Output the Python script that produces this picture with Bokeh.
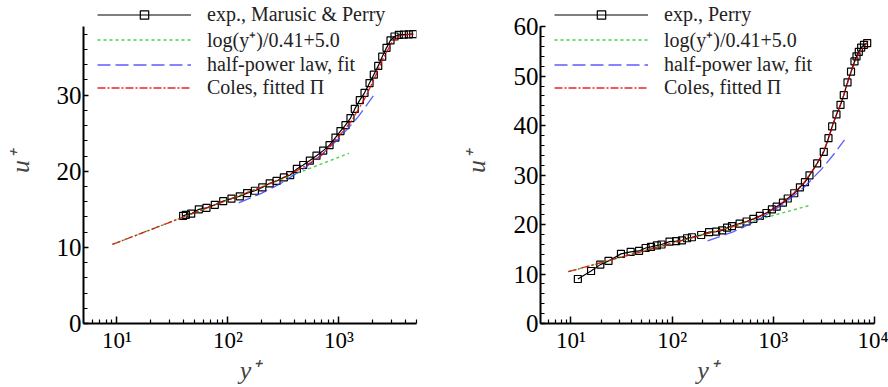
from bokeh.plotting import figure
from bokeh.models import Range1d, FixedTicker, Legend, LegendItem
from bokeh.layouts import row
from bokeh.embed import file_html
from bokeh.resources import INLINE

FONT = "'Liberation Serif', 'Times New Roman', serif"

# ---------------- left panel data (Marusic & Perry) ----------------
L_exp_y = [39.5, 41.8, 46.7, 54.7, 64.1, 76.2, 90.7, 107.7, 128, 149, 175, 204, 238, 274,
           319, 364, 418, 477, 547, 628, 722, 823, 931, 1033, 1146, 1271, 1390, 1542, 1701,
           1887, 2062, 2260, 2455, 2685, 2916, 3168, 3465, 3843, 4263, 4670]
L_exp_u = [14.14, 14.27, 14.43, 15.0, 15.2, 15.59, 16.07, 16.41, 16.71, 17.13, 17.44, 17.87,
           18.42, 18.73, 19.19, 19.5, 20.31, 20.82, 21.4, 22.04, 22.71, 23.43, 24.42, 25.28,
           26.05, 26.99, 28.19, 29.34, 30.3, 31.58, 32.69, 33.84, 35.05, 36.21, 37.19, 37.7,
           37.92, 37.95, 37.97, 38.0]
L_log_y = [9.1, 1230]
L_log_u = [10.39, 22.35]
L_half_y = [125, 200, 300, 500, 700, 1000, 1500, 2060]
L_half_u = [15.85, 17.1, 18.4, 20.5, 22.2, 24.3, 27.2, 30.0]
L_coles_y = [9.1, 40, 100, 200, 300, 500, 700, 1000, 1300, 1700, 2000, 2500, 3000, 3500, 4000, 4700]
L_coles_u = [10.39, 14.0, 16.23, 17.92, 18.97, 20.7, 22.1, 24.6, 26.6, 29.5, 31.6, 34.8, 36.9,
             37.75, 37.95, 38.0]

# ---------------- right panel data (Perry) ----------------
R_exp_y = [11.7, 15.8, 19.5, 23.5, 31.2, 38.9, 47.1, 54.7, 61.8, 70.6, 78.5, 94.2, 109.6, 124.7,
           140.4, 156.6, 193.6, 231.7, 272.4, 311.7, 349.1, 389.9, 464.5, 544.5, 635.3, 736.6,
           855, 968, 1079, 1245, 1388, 1610, 1833, 2055, 2277, 2712, 3153, 3508, 3817, 4207,
           4613, 4970, 5408, 5860, 6340, 6640, 6995, 7385, 7875, 8470]
R_exp_u = [8.99, 10.61, 11.9, 12.65, 14.07, 14.47, 14.66, 15.26, 15.47, 15.77, 15.97, 16.56,
           16.64, 16.78, 17.23, 17.43, 17.89, 18.48, 18.58, 18.81, 19.37, 19.70, 20.2, 20.61,
           21.15, 21.74, 22.33, 23.06, 23.62, 24.41, 25.26, 26.32, 27.53, 28.56, 29.94, 32.37,
           34.68, 37.45, 39.82, 42.25, 44.17, 46.15, 48.72, 50.89, 52.96, 53.99, 54.9, 55.77,
           56.32, 56.68]
R_log_y = [9.4, 2277]
R_log_u = [10.47, 23.85]
R_half_y = [224, 400, 700, 1000, 1500, 2000, 3000, 4000, 5050]
R_half_u = [16.7, 18.5, 20.9, 22.8, 25.4, 27.5, 31.2, 34.3, 37.1]
R_coles_y = [9.4, 30, 100, 200, 400, 700, 1000, 1500, 2000, 2500, 3000, 3500, 4000, 4500, 5000,
             5500, 6000, 7000, 8000, 8500]
R_coles_u = [10.47, 13.3, 16.23, 17.9, 19.6, 21.4, 23.1, 25.8, 28.4, 31.2, 33.9, 37.3, 41.0,
             43.7, 46.3, 49.0, 51.4, 54.6, 56.2, 56.7]

labels_L = ["exp., Marusic & Perry", "log(y\u207a)/0.41+5.0", "half-power law, fit", "Coles, fitted \u03a0"]
labels_R = ["exp., Perry", "log(y\u207a)/0.41+5.0", "half-power law, fit", "Coles, fitted \u03a0"]

SUP = {1: "\u00b9", 2: "\u00b2", 3: "\u00b3", 4: "\u2074"}


def make(exp_y, exp_u, log_y, log_u, half_y, half_u, coles_y, coles_u, labels,
         xmax, ymax, yview, xmajor, xminor, ymajor, yminor, bl, br, ylab_standoff):
    p = figure(width=444, height=387, x_axis_type="log",
               x_range=Range1d(5, xmax), y_range=Range1d(0, yview),
               output_backend="svg", toolbar_location=None,
               min_border_left=bl, min_border_right=br, min_border_top=0, min_border_bottom=57)
    p.outline_line_color = None
    p.grid.visible = False
    p.background_fill_color = "white"

    r_exp_l = p.line(exp_y, exp_u, line_color="black", line_width=1.2)
    r_exp_s = p.scatter(exp_y, exp_u, marker="square", size=7, fill_color=None,
                        line_color="black", line_width=1.2)
    r_log = p.line(log_y, log_u, line_color="#22cc22", line_width=1.4, line_dash="3 3", line_alpha=0.85)
    r_half = p.line(half_y, half_u, line_color="#3333ff", line_width=1.3, line_dash="13 5", line_alpha=0.8)
    r_coles = p.line(coles_y, coles_u, line_color="#e00000", line_width=1.3, line_dash="8 2 2 2", line_alpha=0.85)

    legend = Legend(items=[
        LegendItem(label=labels[0], renderers=[r_exp_l, r_exp_s]),
        LegendItem(label=labels[1], renderers=[r_log]),
        LegendItem(label=labels[2], renderers=[r_half]),
        LegendItem(label=labels[3], renderers=[r_coles]),
    ])
    legend.location = (14, 224)
    legend.padding = 0
    legend.margin = 0
    legend.spacing = 0
    legend.border_line_color = None
    legend.background_fill_alpha = 0
    legend.glyph_width = 94
    legend.glyph_height = 21
    legend.label_height = 21
    legend.label_standoff = 16
    legend.label_text_font = FONT
    legend.label_text_font_size = "20px"
    legend.label_text_color = "#222222"
    p.add_layout(legend, "center")

    xa = p.xaxis[0]
    xa.ticker = FixedTicker(ticks=xmajor, minor_ticks=xminor)
    xa.major_label_overrides = {t: "10" + SUP[len(str(int(t))) - 1] for t in xmajor}
    xa.major_label_text_font = FONT
    xa.major_label_text_font_size = "23px"
    xa.major_label_text_color = "black"
    xa.major_label_standoff = 4
    xa.major_tick_in = 7
    xa.major_tick_out = 0
    xa.minor_tick_in = 4
    xa.minor_tick_out = 0
    xa.axis_line_width = 2
    xa.major_tick_line_width = 1.5
    xa.minor_tick_line_width = 1.2
    xa.axis_label = "y\u207a"
    xa.axis_label_text_font = FONT
    xa.axis_label_text_font_style = "italic"
    xa.axis_label_text_font_size = "26px"
    xa.axis_label_standoff = 0

    ya = p.yaxis[0]
    ya.bounds = (0, ymax)
    ya.ticker = FixedTicker(ticks=ymajor, minor_ticks=yminor)
    ya.major_label_text_font = FONT
    ya.major_label_text_font_size = "25px"
    ya.major_label_text_color = "black"
    ya.major_label_standoff = 2
    ya.major_tick_in = 5
    ya.major_tick_out = 0
    ya.minor_tick_in = 4
    ya.minor_tick_out = 0
    ya.axis_line_width = 2
    ya.major_tick_line_width = 1.5
    ya.minor_tick_line_width = 1.2
    ya.axis_label = "u\u207a"
    ya.axis_label_text_font = FONT
    ya.axis_label_text_font_style = "italic"
    ya.axis_label_text_font_size = "26px"
    ya.axis_label_text_line_height = 0.9
    ya.axis_label_standoff = ylab_standoff
    return p


L_xmajor = [10, 100, 1000]
L_xminor = [6, 7, 8, 9, 20, 30, 40, 50, 60, 70, 80, 90, 200, 300, 400, 500, 600, 700, 800, 900,
            2000, 3000, 4000, 5000]
R_xmajor = [10, 100, 1000, 10000]
R_xminor = [6, 7, 8, 9, 20, 30, 40, 50, 60, 70, 80, 90, 200, 300, 400, 500, 600, 700, 800, 900,
            2000, 3000, 4000, 5000, 6000, 7000, 8000, 9000]
L_ymajor = [0, 10, 20, 30]
L_yminor = list(range(0, 40, 2))
R_ymajor = [0, 10, 20, 30, 40, 50, 60]
R_yminor = list(range(0, 62, 2))

p1 = make(L_exp_y, L_exp_u, L_log_y, L_log_u, L_half_y, L_half_u, L_coles_y, L_coles_u, labels_L,
          5000, 39, 42.43, L_xmajor, L_xminor, L_ymajor, L_yminor, 83, 28, 19)
p2 = make(R_exp_y, R_exp_u, R_log_y, R_log_u, R_half_y, R_half_u, R_coles_y, R_coles_u, labels_R,
          10000, 60, 65.28, R_xmajor, R_xminor, R_ymajor, R_yminor, 96, 14, 20)

layout = row(p1, p2, spacing=0)
open("out.html", "w").write(file_html(layout, INLINE))
